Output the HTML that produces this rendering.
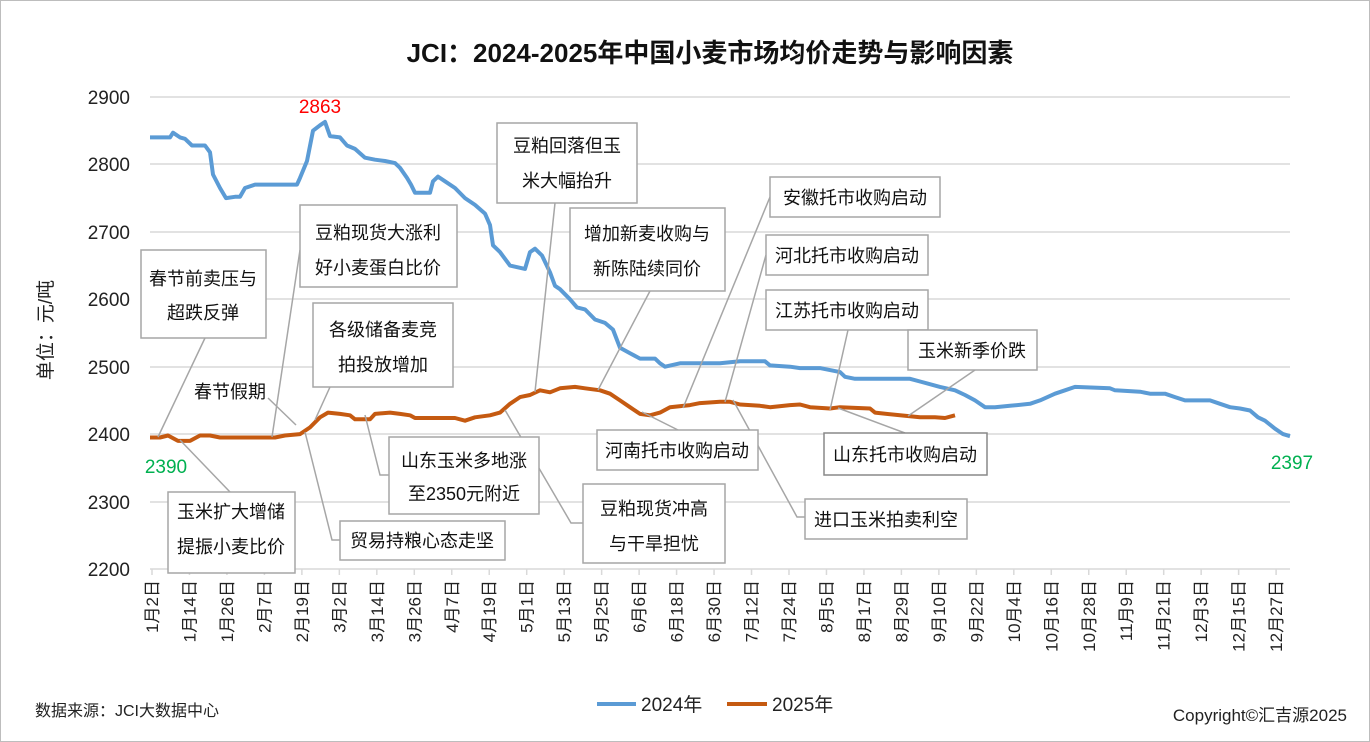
<!DOCTYPE html>
<html><head><meta charset="utf-8"><style>
body{margin:0;background:#fff}
svg{display:block;font-family:"Liberation Sans","Noto Sans CJK SC",sans-serif}
</style></head><body>
<svg width="1370" height="742" viewBox="0 0 1370 742" xmlns="http://www.w3.org/2000/svg">
<rect x="0.5" y="0.5" width="1369" height="741" fill="#fff" stroke="#bdbdbd"/>
<text x="710" y="62" text-anchor="middle" font-size="26" font-weight="bold" fill="#111">JCI：2024-2025年中国小麦市场均价走势与影响因素</text>
<g stroke="#d9d9d9" stroke-width="1.5">
<line x1="150" y1="97" x2="1290" y2="97"/><line x1="150" y1="164" x2="1290" y2="164"/>
<line x1="150" y1="232" x2="1290" y2="232"/><line x1="150" y1="299" x2="1290" y2="299"/>
<line x1="150" y1="367" x2="1290" y2="367"/><line x1="150" y1="434" x2="1290" y2="434"/>
<line x1="150" y1="502" x2="1290" y2="502"/><line x1="150" y1="569" x2="1290" y2="569"/>
</g>
<g font-size="19" fill="#222" text-anchor="end">
<text x="130" y="104">2900</text><text x="130" y="171">2800</text><text x="130" y="239">2700</text>
<text x="130" y="306">2600</text><text x="130" y="374">2500</text><text x="130" y="441">2400</text>
<text x="130" y="509">2300</text><text x="130" y="576">2200</text>
</g>
<text transform="translate(52,330) rotate(-90)" text-anchor="middle" font-size="19" fill="#222">单位：元/吨</text>
<g id="xt" font-size="17" fill="#222"></g>
<polyline fill="none" stroke="#5b9bd5" stroke-width="4" stroke-linejoin="round" points="150,2840 170,2840 173,2847 180,2840 185,2838 192,2828 205,2828 210,2818 213,2785 220,2765 226,2750 235,2752 240,2752 245,2765 255,2770 297,2770 300,2780 307,2805 313,2850 320,2858 325,2863 330,2842 340,2840 347,2828 355,2823 365,2810 375,2807 385,2805 395,2802 400,2795 407,2780 411,2770 415,2758 430,2758 433,2775 438,2782 445,2775 455,2765 465,2750 475,2740 485,2727 490,2710 493,2680 500,2670 510,2650 525,2645 530,2670 535,2675 542,2665 550,2640 555,2620 560,2615 570,2600 577,2588 585,2585 595,2570 605,2565 613,2555 620,2528 630,2520 640,2512 655,2512 660,2505 665,2500 680,2505 720,2505 740,2508 765,2508 770,2502 790,2500 800,2498 820,2498 840,2492 845,2485 855,2482 880,2482 910,2482 920,2478 940,2470 955,2465 965,2458 975,2450 985,2440 995,2440 1010,2442 1030,2445 1040,2450 1055,2460 1065,2465 1075,2470 1110,2468 1115,2465 1140,2463 1150,2460 1165,2460 1175,2455 1185,2450 1210,2450 1220,2445 1230,2440 1240,2438 1250,2435 1258,2425 1265,2420 1275,2408 1283,2400 1290,2397" id="s1"/>
<polyline fill="none" stroke="#c55a11" stroke-width="4" stroke-linejoin="round" id="s2" points="150,2395 160,2395 168,2398 178,2390 190,2390 200,2398 210,2398 220,2395 275,2395 285,2398 300,2400 310,2410 320,2425 328,2432 340,2430 350,2428 355,2422 370,2422 375,2430 390,2432 400,2430 410,2428 415,2424 455,2424 465,2420 475,2425 490,2428 500,2432 510,2445 520,2455 530,2458 540,2465 550,2462 560,2468 575,2470 585,2468 600,2465 610,2460 620,2450 630,2440 640,2430 650,2428 660,2432 670,2440 690,2443 700,2446 720,2448 730,2448 740,2444 760,2442 770,2440 790,2443 800,2444 810,2440 830,2438 840,2440 870,2438 875,2432 900,2428 920,2425 935,2425 945,2424 955,2428"/>
<g stroke="#a6a6a6" stroke-width="1.5" fill="none">
<polyline points="205,338 158,437"/>
<polyline points="268,398 296,425"/>
<polyline points="300,250 272,437"/>
<polyline points="330,387 315,420"/>
<polyline points="555,203 535,392"/>
<polyline points="650,291 598,390"/>
<polyline points="770,197 683,408"/>
<polyline points="766,255 725,402"/>
<polyline points="848,330 830,410"/>
<polyline points="975,370 908,416"/>
<polyline points="905,433 838,408"/>
<polyline points="678,430 642,412"/>
<polyline points="805,517 797,517 733,400"/>
<polyline points="583,523 571,523 505,410"/>
<polyline points="389,475 380,475 365,415"/>
<polyline points="340,540 332,540 305,432"/>
<polyline points="230,492 180,440"/>
</g>
<g stroke="#a6a6a6" stroke-width="1.5" fill="#fff">
<rect x="141" y="250" width="125" height="88"/>
<rect x="300" y="205" width="157" height="82"/>
<rect x="313" y="303" width="140" height="84"/>
<rect x="497" y="123" width="140" height="80"/>
<rect x="570" y="208" width="155" height="83"/>
<rect x="770" y="177" width="170" height="40"/>
<rect x="766" y="235" width="162" height="40"/>
<rect x="766" y="290" width="162" height="40"/>
<rect x="908" y="330" width="129" height="40"/>
<rect x="824" y="433" width="163" height="42" stroke="#888"/>
<rect x="597" y="430" width="161" height="40"/>
<rect x="805" y="499" width="162" height="40"/>
<rect x="583" y="484" width="142" height="79"/>
<rect x="389" y="437" width="150" height="77"/>
<rect x="340" y="521" width="165" height="39"/>
<rect x="168" y="492" width="127" height="81"/>
</g>
<g font-size="18" fill="#111" text-anchor="middle">
<text x="203" y="285">春节前卖压与</text><text x="203" y="319">超跌反弹</text>
<text x="230" y="398">春节假期</text>
<text x="378" y="239">豆粕现货大涨利</text><text x="378" y="274">好小麦蛋白比价</text>
<text x="383" y="336">各级储备麦竞</text><text x="383" y="371">拍投放增加</text>
<text x="567" y="152">豆粕回落但玉</text><text x="567" y="187">米大幅抬升</text>
<text x="647" y="240">增加新麦收购与</text><text x="647" y="275">新陈陆续同价</text>
<text x="855" y="204">安徽托市收购启动</text>
<text x="847" y="262">河北托市收购启动</text>
<text x="847" y="317">江苏托市收购启动</text>
<text x="972" y="357">玉米新季价跌</text>
<text x="905" y="461">山东托市收购启动</text>
<text x="677" y="457">河南托市收购启动</text>
<text x="886" y="526">进口玉米拍卖利空</text>
<text x="654" y="515">豆粕现货冲高</text><text x="654" y="550">与干旱担忧</text>
<text x="464" y="467">山东玉米多地涨</text><text x="464" y="500">至2350元附近</text>
<text x="422" y="547">贸易持粮心态走坚</text>
<text x="231" y="518">玉米扩大增储</text><text x="231" y="553">提振小麦比价</text>
</g>
<text x="320" y="113" text-anchor="middle" font-size="19" fill="#ff0000">2863</text>
<text x="166" y="473" text-anchor="middle" font-size="19" fill="#00b050">2390</text>
<text x="1292" y="469" text-anchor="middle" font-size="19" fill="#00b050">2397</text>
<line x1="597" y1="704" x2="636" y2="704" stroke="#5b9bd5" stroke-width="4"/>
<text x="641" y="711" font-size="19" fill="#222">2024年</text>
<line x1="727" y1="704" x2="767" y2="704" stroke="#c55a11" stroke-width="4"/>
<text x="772" y="711" font-size="19" fill="#222">2025年</text>
<text x="35" y="716" font-size="16" fill="#222">数据来源：JCI大数据中心</text>
<text x="1347" y="721" text-anchor="end" font-size="17" fill="#222">Copyright©汇吉源2025</text>
</svg>
<script>
function Y(v){return 569-(v-2200)*0.6743;}
['s1','s2'].forEach(function(id){var p=document.getElementById(id);var pts=p.getAttribute('points').trim().split(/\s+/).map(function(s){var a=s.split(',');return a[0]+','+Y(+a[1]).toFixed(1);});p.setAttribute('points',pts.join(' '));});
var labs=['1月2日','1月14日','1月26日','2月7日','2月19日','3月2日','3月14日','3月26日','4月7日','4月19日','5月1日','5月13日','5月25日','6月6日','6月18日','6月30日','7月12日','7月24日','8月5日','8月17日','8月29日','9月10日','9月22日','10月4日','10月16日','10月28日','11月9日','11月21日','12月3日','12月15日','12月27日'];
var g=document.getElementById('xt'),ns='http://www.w3.org/2000/svg';
labs.forEach(function(l,i){var x=152+i*37.47;var ln=document.createElementNS(ns,'line');ln.setAttribute('x1',x);ln.setAttribute('x2',x);ln.setAttribute('y1',569);ln.setAttribute('y2',575);ln.setAttribute('stroke','#d9d9d9');ln.setAttribute('stroke-width','1.5');g.appendChild(ln);
var t=document.createElementNS(ns,'text');t.setAttribute('transform','translate('+(x+6)+',580) rotate(-90)');t.setAttribute('text-anchor','end');t.textContent=l;g.appendChild(t);});
</script>
</body></html>
